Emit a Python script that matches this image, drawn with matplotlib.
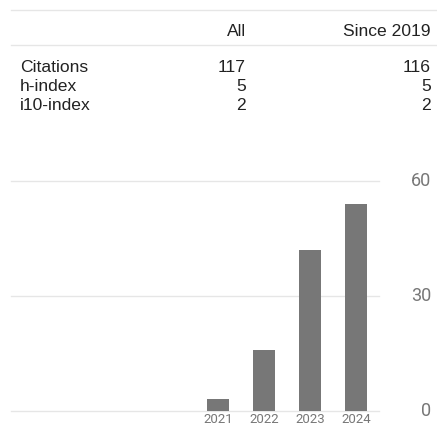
import matplotlib
matplotlib.use('Agg')
import matplotlib.pyplot as plt
from matplotlib.lines import Line2D

# Dados do perfil (Google Scholar)
header = ['All', 'Since 2019']
row_labels = ['Citations', 'h-index', 'i10-index']
all_values = ['117', '5', '2']
since_values = ['116', '5', '2']

years = [2021, 2022, 2023, 2024]
citations = [3, 16, 42, 54]
y_ticks = [0, 30, 60]

W, H = 437, 426
TEXT = '#222222'
GRAY = '#777777'
LINE = '#e6e6e6'


def px(x, y):
  # pixels (topo-esquerda) -> fração da figura
  return x / W, 1 - y / H


fig = plt.figure(figsize=(W / 100, H / 100), dpi=100)

# tabela no topo
for y in [10, 45]:
  x0, y0 = px(11, y)
  fig.add_artist(Line2D([x0, 1], [y0, y0], color=LINE, lw=1, transform=fig.transFigure))

font_tab = dict(family='Liberation Sans', fontsize=12.6, color=TEXT, va='baseline')
fig.text(*px(246, 36), header[0], ha='right', **font_tab)
fig.text(*px(431, 36), header[1], ha='right', **font_tab)
for i, label in enumerate(row_labels):
  yb = 72 + 19 * i
  fig.text(*px(20, yb), label, ha='left', **font_tab)
  fig.text(*px(246, yb), all_values[i], ha='right', **font_tab)
  fig.text(*px(431, yb), since_values[i], ha='right', **font_tab)

# gráfico de barras
ax = fig.add_axes([11 / W, 15.3 / H, 368 / W, 229.4 / H])
ax.bar(years, citations, width=0.46, color=GRAY, zorder=3)
ax.set_xlim(2016.5, 2024.5)
ax.set_ylim(0, 60)
for v in y_ticks:
  ax.axhline(v, color=LINE, lw=1, zorder=1, clip_on=False)
  ax.text((431 - 11) / 368, v, str(v), transform=ax.get_yaxis_transform(),
          ha='right', va='center', fontsize=13, family='Roboto', color=GRAY)

for s in ax.spines.values():
  s.set_visible(False)
ax.set_yticks([])
ax.set_xticks(years)
ax.set_xticklabels([str(y) for y in years], fontsize=9.5, family='Roboto', color=GRAY)
ax.tick_params(axis='x', length=0, pad=1.5)
ax.patch.set_alpha(0)

fig.savefig('out.png', dpi=100)
plt.close()
